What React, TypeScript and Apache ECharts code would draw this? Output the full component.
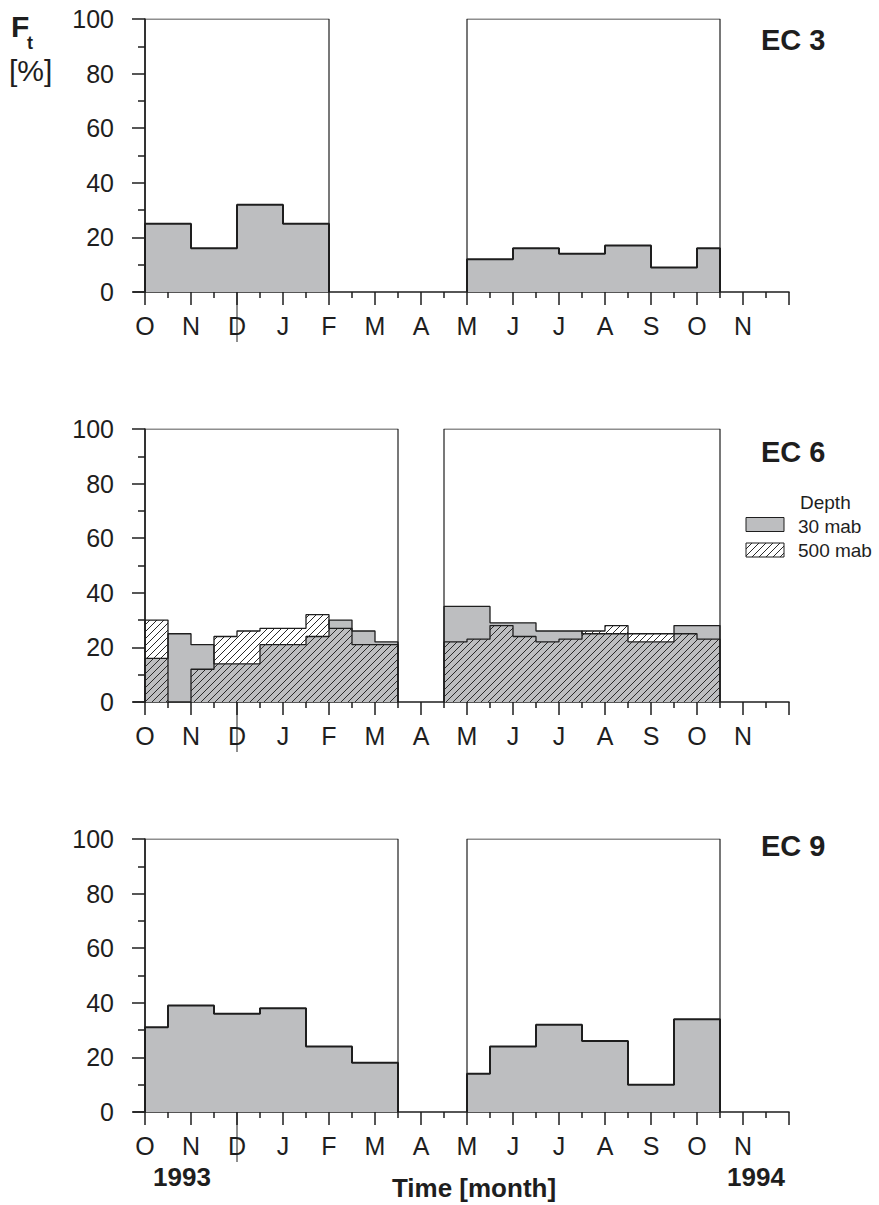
import React, { useEffect, useRef } from "react";
import * as echarts from "echarts";

// ---------- data ----------
const monthLabels = ["O", "N", "D", "J", "F", "M", "A", "M", "J", "J", "A", "S", "O", "N"];
const stationNames = ["EC 3", "EC 6", "EC 9"];
const legendTitle = "Depth";
const depthNames = ["30 mab", "500 mab"];
const yearLabels = ["1993", "1994"];
const xAxisTitle = "Time [month]";

// half-month bins starting 1 Oct 1993 (index 0 = first half of October); null = no data
const ec3Mab30 = [25, 25, 16, 16, 32, 32, 25, 25, null, null, null, null, null, null, 12, 12, 16, 16, 14, 14, 17, 17, 9, 9, 16, null, null, null];
const ec6Mab30 = [16, 25, 21, 14, 14, 21, 21, 24, 30, 26, 22, null, null, 35, 35, 29, 29, 26, 26, 25, 25, 22, 22, 28, 28, null, null, null];
const ec6Mab500 = [30, 0, 12, 24, 26, 27, 27, 32, 27, 21, 21, null, null, 22, 23, 28, 24, 22, 23, 26, 28, 25, 25, 25, 23, null, null, null];
const ec9Mab30 = [31, 39, 39, 36, 36, 38, 38, 24, 24, 18, 18, null, null, null, 14, 24, 24, 32, 32, 26, 26, 10, 10, 34, 34, null, null, null];

// deployment periods, months since 1 Oct 1993
const ec3Periods = [[0, 4], [7, 12.5]];
const ec6Periods = [[0, 5.5], [6.5, 12.5]];
const ec9Periods = [[0, 5.5], [7, 12.5]];

// ---------- helpers ----------
function stepRuns(bins: (number | null)[]) {
  const runs: number[][][] = [];
  let cur: number[][] | null = null;
  bins.forEach((v, i) => {
    const x0 = i / 2;
    const x1 = (i + 1) / 2;
    if (v == null) {
      if (cur) {
        cur.push([cur[cur.length - 1][0], 0]);
        runs.push(cur);
        cur = null;
      }
      return;
    }
    if (!cur) cur = [[x0, 0]];
    cur.push([x0, v], [x1, v]);
  });
  if (cur) {
    cur.push([cur[cur.length - 1][0], 0]);
    runs.push(cur);
  }
  return runs;
}

function makeHatch() {
  const s = 7;
  const c = document.createElement("canvas");
  c.width = s;
  c.height = s;
  const ctx = c.getContext("2d")!;
  ctx.strokeStyle = "#2a2a2a";
  ctx.lineWidth = 1;
  ctx.beginPath();
  ctx.moveTo(0, s);
  ctx.lineTo(s, 0);
  ctx.moveTo(-1, 1);
  ctx.lineTo(1, -1);
  ctx.moveTo(s - 1, s + 1);
  ctx.lineTo(s + 1, s - 1);
  ctx.stroke();
  return c;
}

const FONT = "'Liberation Sans', Arial, Helvetica, sans-serif";
const INK = "#1e1e1e";
const GRAY = "#bdbec0";

export default function App() {
  const ref = useRef<HTMLDivElement>(null);

  useEffect(() => {
    if (!ref.current) return;
    const chart = echarts.init(ref.current, null, { renderer: "svg" });
    const hatch = makeHatch();
    const hatchFill = { image: hatch, repeat: "repeat" } as any;

    const gridTops = [19, 429, 839];
    const gridH = 273;
    const gridLeft = 145;
    const gridW = 644;

    const panels = [
      { gray: ec3Mab30, hatch: null as any, periods: ec3Periods, lw: 2 },
      { gray: ec6Mab30, hatch: ec6Mab500, periods: ec6Periods, lw: 1.3 },
      { gray: ec9Mab30, hatch: null as any, periods: ec9Periods, lw: 2 },
    ];

    const grid = gridTops.map((t) => ({ left: gridLeft, top: t, width: gridW, height: gridH }));
    const xAxis = gridTops.map((_, g) => ({
      type: "value",
      gridIndex: g,
      min: 0,
      max: 14,
      interval: 1,
      axisLine: { show: true, lineStyle: { color: INK, width: 1.5 } },
      axisTick: { show: true, length: 13, lineStyle: { color: INK, width: 1.5 } },
      minorTick: { show: true, splitNumber: 2, length: 6, lineStyle: { color: INK, width: 1.5 } },
      splitLine: { show: false },
      minorSplitLine: { show: false },
      axisLabel: {
        show: true,
        formatter: (v: number) => (Number.isInteger(v) && v < monthLabels.length ? monthLabels[v] : ""),
        fontFamily: FONT,
        fontSize: 25,
        color: INK,
        margin: 34,
        verticalAlign: "middle",
      },
    }));
    const yAxis = gridTops.map((_, g) => ({
      type: "value",
      gridIndex: g,
      min: 0,
      max: 100,
      interval: 20,
      offset: 12,
      axisLine: { show: true, lineStyle: { color: INK, width: 1.5 } },
      axisTick: { show: true, length: 13, lineStyle: { color: INK, width: 1.5 } },
      minorTick: { show: true, splitNumber: 2, length: 7, lineStyle: { color: INK, width: 1.5 } },
      splitLine: { show: false },
      minorSplitLine: { show: false },
      axisLabel: { fontFamily: FONT, fontSize: 25, color: INK, margin: 19 },
    }));

    const series: any[] = [];
    panels.forEach((p, g) => {
      stepRuns(p.gray).forEach((run) => {
        series.push({
          type: "line",
          xAxisIndex: g,
          yAxisIndex: g,
          data: run,
          symbol: "none",
          silent: true,
          z: 2,
          lineStyle: { color: INK, width: p.lw },
          areaStyle: { color: GRAY, opacity: 1 },
        });
      });
      if (p.hatch) {
        stepRuns(p.hatch).forEach((run) => {
          series.push({
            type: "line",
            xAxisIndex: g,
            yAxisIndex: g,
            data: run,
            symbol: "none",
            silent: true,
            z: 3,
            lineStyle: { color: INK, width: p.lw },
            areaStyle: { color: hatchFill, opacity: 1 },
          });
        });
      }
      p.periods.forEach(([a, b]) => {
        series.push({
          type: "line",
          xAxisIndex: g,
          yAxisIndex: g,
          data: [[a, 0], [a, 100], [b, 100], [b, 0]],
          symbol: "none",
          silent: true,
          z: 4,
          lineStyle: { color: INK, width: 1.2 },
        });
      });
    });

    const txt = (text: string, x: number, y: number, size: number, bold: boolean, align = "left") => ({
      type: "text",
      x,
      y,
      silent: true,
      style: {
        text,
        font: `${bold ? "bold " : ""}${size}px ${FONT}`,
        fill: INK,
        textAlign: align,
        textVerticalAlign: "middle",
        align,
        verticalAlign: "middle",
      },
    });

    const graphic: any[] = [
      txt("F", 11, 26, 30, true),
      txt("t", 27, 43, 18, true),
      txt("[%]", 9, 70, 30, false),
      txt(stationNames[0], 761, 40, 29, true),
      txt(stationNames[1], 761, 452, 29, true),
      txt(stationNames[2], 761, 846, 29, true),
      txt(legendTitle, 800, 502, 19, false),
      txt(depthNames[0], 798, 526, 19, false),
      txt(depthNames[1], 798, 550, 19, false),
      {
        type: "rect",
        shape: { x: 746, y: 517.5, width: 38, height: 14 },
        style: { fill: GRAY, stroke: INK, lineWidth: 1 },
      },
      {
        type: "rect",
        shape: { x: 746, y: 543, width: 38, height: 14 },
        style: { fill: hatchFill, stroke: INK, lineWidth: 1 },
      },
      txt(yearLabels[0], 182, 1177, 26, true, "center"),
      txt(xAxisTitle, 474, 1188, 26, true, "center"),
      txt(yearLabels[1], 756, 1177, 26, true, "center"),
    ];

    chart.setOption({
      animation: false,
      backgroundColor: "#ffffff",
      grid,
      xAxis,
      yAxis,
      series,
    });

    // axis decorations: bridge between offset y axis and x axis, long tick at D
    gridTops.forEach((_, g) => {
      const [px0, py0] = chart.convertToPixel({ xAxisIndex: g, yAxisIndex: g } as any, [0, 0]) as number[];
      const [pxD] = chart.convertToPixel({ xAxisIndex: g, yAxisIndex: g } as any, [2, 0]) as number[];
      graphic.push({
        type: "line",
        shape: { x1: px0 - 12, y1: py0, x2: px0, y2: py0 },
        style: { stroke: INK, lineWidth: 1.5 },
      });
      graphic.push({
        type: "line",
        shape: { x1: pxD, y1: py0, x2: pxD, y2: py0 + 50 },
        style: { stroke: INK, lineWidth: 1 },
      });
    });

    chart.setOption({ graphic });

    return () => chart.dispose();
  }, []);

  return (
    <div
      ref={ref}
      style={{ position: "fixed", left: 0, top: 0, width: 879, height: 1205, background: "#fff" }}
    />
  );
}
